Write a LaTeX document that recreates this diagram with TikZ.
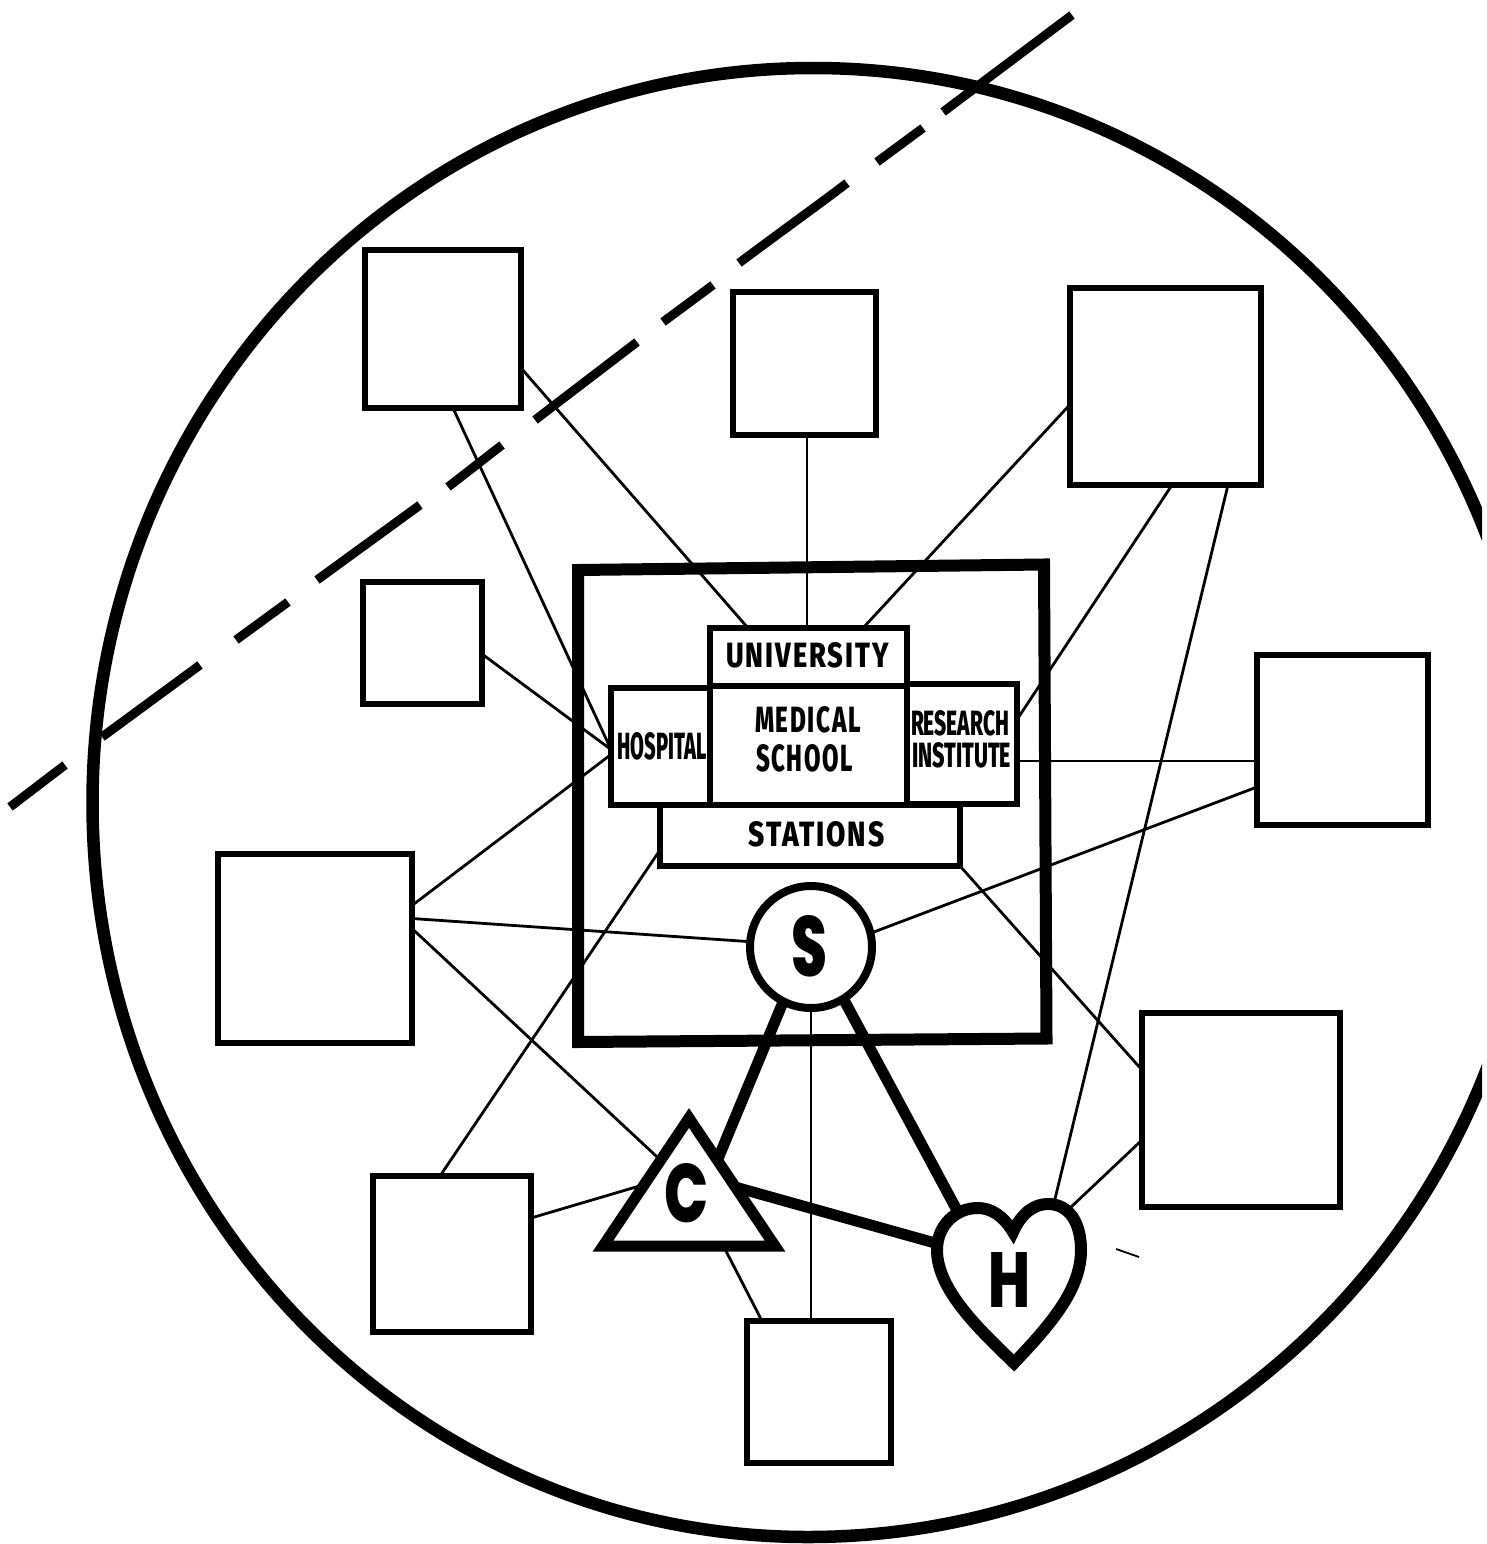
\documentclass[tikz,border=0pt]{standalone}
\usepackage{graphicx}
\usepackage{fontspec}
\setmainfont{Fira Sans}[BoldFont={Fira Sans ExtraBold}]
\newfontfamily\bigfont{Poppins}[BoldFont={Poppins ExtraBold}]
\usetikzlibrary{calc}
\newcommand{\lab}[3]{\resizebox{#1pt}{#2pt}{\bfseries #3}}
\newcommand{\tracked}[3]{\resizebox{#1pt}{#2pt}{\bfseries\addfontfeatures{LetterSpace=7}#3}}
\newcommand{\biglab}[3]{\resizebox{#1pt}{#2pt}{\bigfont\bfseries #3}}
\tikzset{
  sq/.style={draw=black,fill=white,line width=6pt,rectangle,inner sep=0,outer sep=0,line join=miter},
  unit/.style={draw=black,line width=6pt,rectangle,inner sep=0,outer sep=0},
  txt/.style={inner sep=0,outer sep=0,text=black},
  link/.style={draw=black,line width=2.8pt},
  tie/.style={draw=black,line width=11pt},
  frame/.style={draw=black,line width=12pt,line join=miter},
  ringline/.style={draw=black,line width=12.5pt},
  dashseg/.style={draw=black,line width=9pt}
}
\begin{document}
\begin{tikzpicture}[x=1pt,y=-1pt]
\useasboundingbox[fill=white] (0,0) rectangle (1486,1544);
% outer ring
\begin{scope}
\clip (0,0) rectangle (1482,1544);
\draw[ringline] (813,68)
  .. controls (1212.3,68) and (1536,397.1) .. (1536,803)
  .. controls (1536,1208.4) and (1210,1537) .. (808,1537)
  .. controls (412.8,1537) and (92.5,1208.4) .. (92.5,803)
  .. controls (92.5,397.1) and (415.1,68) .. cycle;
\end{scope}
% boundary
\draw[dashseg] (1072,15)--(943,112);
\draw[dashseg] (923,128)--(877,162);
\draw[dashseg] (847,183) .. controls (825,200) and (790,225) .. (739,263);
\draw[dashseg] (713,285)--(663,322);
\draw[dashseg] (637,342)--(535,420);
\draw[dashseg] (502,445)--(448,487);
\draw[dashseg] (420,505)--(317,580);
\draw[dashseg] (288,602)--(236,640);
\draw[dashseg] (200,665)--(102,737);
\draw[dashseg] (65,765)--(10,807);
% central frame
\draw[frame] (578,570)--(1044,564.5)--(1046.5,1038.5)--(578,1042)--cycle;
% satellites
\node[sq,minimum width=156,minimum height=158] (A) at (443,329) {};
\node[sq,minimum width=143,minimum height=143] (B) at (804.5,363.5) {};
\node[sq,minimum width=191,minimum height=197] (C) at (1165.5,386.5) {};
\node[sq,minimum width=119,minimum height=122] (D) at (422.5,643) {};
\node[sq,minimum width=171,minimum height=170] (E) at (1342.5,740) {};
\node[sq,minimum width=194,minimum height=189] (F) at (315,948.5) {};
\node[sq,minimum width=198,minimum height=194] (G) at (1241,1110) {};
\node[sq,minimum width=158,minimum height=156] (Hh) at (452,1254) {};
\node[sq,minimum width=144,minimum height=142] (I) at (819,1392) {};
% institution blocks
\node[unit,minimum width=197,minimum height=58] (Univ) at (808.5,657) {};
\node[unit,minimum width=300,minimum height=61] (Stat) at (810,835.5) {};
\node[unit,minimum width=99,minimum height=117] (Hosp) at (660.5,746.5) {};
\node[unit,minimum width=197,minimum height=119] (Sch) at (808.5,745.5) {};
\node[unit,minimum width=110,minimum height=120] (Res) at (962,744) {};
\node[txt] (tU) at (807.5,655.5) {\tracked{162}{25}{UNIVERSITY}};
\node[txt] (tM) at (808,720) {\tracked{106}{26}{MEDICAL}};
\node[txt] (tS) at (804.5,758) {\tracked{97}{27}{SCHOOL}};
\node[txt] (tH) at (662,746) {\lab{89}{27}{HOSPITAL}};
\node[txt] (tR) at (960,723) {\lab{98}{25}{RESEARCH}};
\node[txt] (tI) at (961.5,755.5) {\lab{99}{25}{INSTITUTE}};
\node[txt] (tT) at (816.5,834) {\tracked{136}{25}{STATIONS}};
% S circle
\node[draw=black,fill=white,line width=8pt,circle,minimum size=122,inner sep=0,outer sep=0] (S) at (811,947) {};
\node[txt] (tSS) at (809,946) {\biglab{36}{61}{S}};
% C triangle
\coordinate (Ca) at (689,1118);
\coordinate (Cl) at (603,1246);
\coordinate (Cr) at (775,1246);
% H heart
\coordinate (Hcusp) at (1013,1232);
\coordinate (HtS) at (959,1214);
\coordinate (HtC) at (935,1243);
\coordinate (HtL) at (1054,1203);
\coordinate (HtG) at (1070,1208);
% thin connectors
\draw[link] ($(A.south west)+(88,0)$) -- ($(Hosp.west)+(0,3)$);
\draw[link] ($(A.east)+(0,39)$) -- ($(Univ.north west)+(38,0)$);
\draw[link] ($(B.south)+(2.5,0)$) -- ($(Univ.north)+(-1.5,0)$);
\draw[link] ($(C.west)+(0,18)$) -- ($(Univ.north east)+(-44,0)$);
\draw[link] ($(C.south west)+(102,0)$) -- ($(Res.east)+(1,-26)$);
\draw[link] ($(C.south west)+(158,0)$) -- (HtL);
\draw[link] ($(D.east)+(0,11)$) -- ($(Hosp.west)+(0,3)$);
\draw[link] ($(E.west)+(0,21)$) -- ($(Res.east)+(0,17)$);
\draw[link] ($(E.west)+(0,47)$) -- (S.13);
\draw[link] ($(F.east)+(0,-43)$) -- ($(Hosp.west)+(0,8)$);
\draw[link] ($(F.east)+(0,-30)$) -- (S.175);
\draw[link] ($(F.east)+(0,-20)$) -- ($(Ca)!0.33!(Cl)$);
\draw[link] ($(Hh.north west)+(67,0)$) -- ($(Stat.south west)+(0,-16)$);
\draw[link] ($(Hh.north east)+(0,42)$) -- ($(Ca)!0.52!(Cl)$);
\draw[link] ($(G.west)+(0,-40)$) -- (Stat.south east);
\draw[link] ($(G.west)+(0,30)$) -- (HtG);
\draw[link] ($(I.north west)+(15,0)$) -- ($(Cl)!0.7!(Cr)$);
\draw[link] ($(I.north west)+(64,0)$) -- (S.south);
% thick ties
\draw[tie] (S.243) -- ($(Ca)!0.33!(Cr)$);
\draw[tie] (S.-58) -- (HtS);
\draw[tie] ($(Ca)!0.54!(Cr)$) -- (HtC);
% triangle and heart on top
\draw[draw=black,fill=white,line width=11pt,line join=miter] (Ca)--(Cl)--(Cr)--cycle;
\node[txt] (tC) at (686,1193) {\biglab{44}{59}{C}};
\draw[draw=black,fill=white,line width=12pt,line join=miter] (Hcusp)
  .. controls (1003,1215) and (990,1208) .. (978,1208)
  .. controls (955,1208) and (937,1226) .. (937,1250)
  .. controls (937,1290) and (980,1330) .. (1014,1363)
  .. controls (1050,1325) and (1081,1290) .. (1081,1250)
  .. controls (1081,1224) and (1070,1204) .. (1048,1204)
  .. controls (1035,1204) and (1022,1212) .. cycle;
\node[txt] (tHH) at (1009.5,1279.5) {\biglab{42}{55}{H}};
% stray mark
\coordinate (m1) at (1116,1249);
\coordinate (m2) at (1139,1257);
\draw[draw=black,line width=1.8pt] (m1)--(m2);
\end{tikzpicture}
\end{document}
